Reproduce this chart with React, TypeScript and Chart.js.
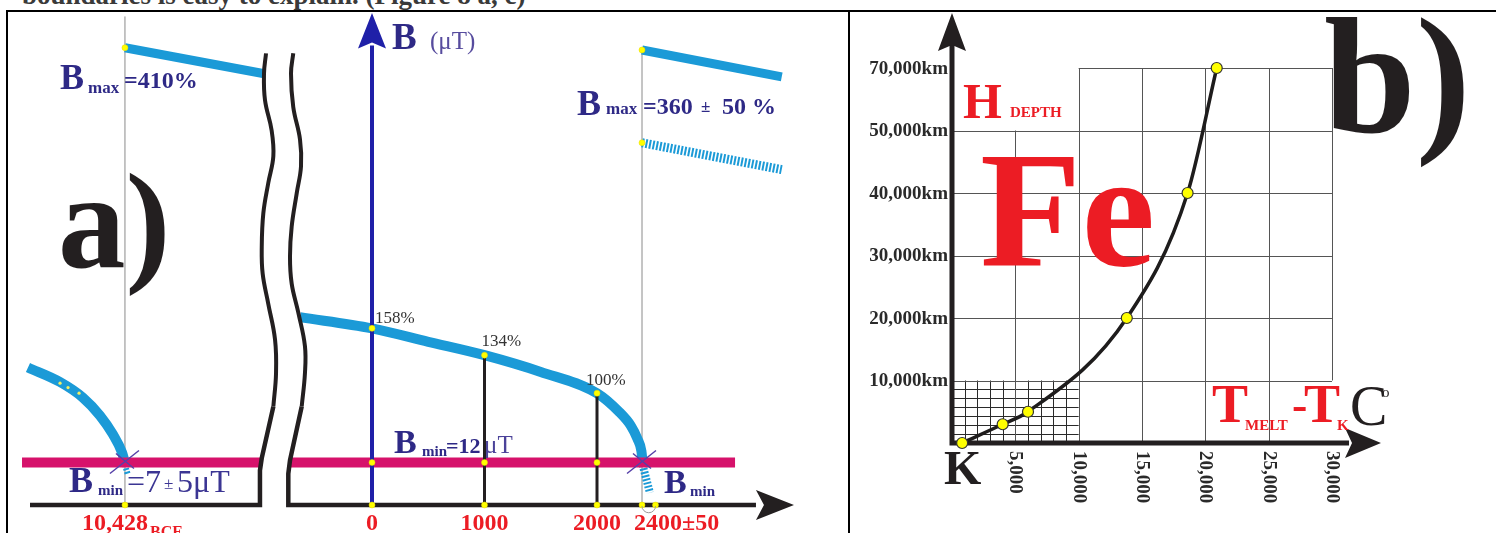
import React, { useEffect, useRef } from "react";
import { Chart, registerables } from "chart.js";
Chart.register(...registerables);

const SERIF = '"Liberation Serif", "Times New Roman", serif';
const INDIGO = "#2e2986";
const RED = "#ec1c24";
const CYAN = "#1b9ad7";
const MAGENTA = "#d6126b";
const BLUE = "#1f20a8";
const INK = "#231f20";
const YELLOW = "#ffff00";

// ================= Panel a) : B (% / µT) versus years =================
// x axis is broken: left part shows 10,428 BCE compressed next to the break
const A_TICK_YEARS = [-2196, 0, 1000, 2000, 2400];
const A_TICK_LABELS = ["10,428", "0", "1000", "2000", "2400±50"];
const A_CURVE_YEARS = [-640, 0, 500, 1000, 1500, 2000, 2200, 2300, 2360, 2395, 2405];
const A_CURVE_PCT = [168, 158, 146, 134, 119, 100, 83, 71, 59, 48, 38];
const A_MARK_YEARS = [0, 1000, 2000];
const A_MARK_PCT = [158, 134, 100];
const A_MARK_LABELS = ["158%", "134%", "100%"];
const A_LEFT_YEARS = [-3058, -2773, -2569, -2418, -2302, -2222, -2196];
const A_LEFT_PCT = [123, 110, 96, 80, 63, 47, 38];
const A_BMIN_PCT = 38;
const A_BMIN_L_YEARS = [-3111, -978];
const A_BMIN_R_YEARS = [-729, 3227];
const A_BMAX_L_YEARS = [-2196, -969];
const A_BMAX_L_PCT = [409, 386];
const A_BMAX_R_YEARS = [2400, 3642];
const A_BMAX_R_PCT = [407, 383];
const A_BMAX_R_LOW_PCT = [324, 300];
const A_TAIL_YEARS = [2405, 2470];
const A_TAIL_PCT = [36, 11];
const A_TAIL_L_YEARS = [-2196, -2170];
const A_TAIL_L_PCT = [36, 27];
const A_SPECK_YEARS = [-2773, -2702, -2604];
const A_SPECK_PCT = [109, 105, 100];
const A_PM_YEARS = [2400, 2520];
// broken-axis squiggles
const A_BREAK_L_X = [-877, -853, -862, -922, -972, -980, -966, -922, -877, -892, -951, -960, -942];
const A_BREAK_L_Y = [88, 118, 148, 180, 207, 231, 261, 288, 312, 335, 362, 386, 404];
const A_AXIS_L_X = [-3040, -996, -996, -980, -877];
const A_AXIS_L_Y = [0, 0, 31, 42, 88];
const A_BREAK_R_X = [-625, -596, -596, -655, -714, -729, -714, -669, -631, -640, -700, -720, -700];
const A_BREAK_R_Y = [88, 118, 142, 172, 198, 222, 249, 279, 303, 327, 356, 386, 404];
const A_AXIS_R_X = [3413, -744, -744, -729, -625];
const A_AXIS_R_Y = [0, 0, 28, 40, 88];
const A_GUIDE_TOP = [437, 407];
const A_B_AXIS_TOP = 411;
const A_B_AXIS_TIP = 440;
const A_X_ARROW_BASE = 3413;
const A_X_ARROW_TIP = 3751;

// ================= Panel b) : depth vs T_melt - T_K =================
const B_T = [800, 4000, 6000, 13800, 18600, 20900];
const B_DEPTH = [0, 3000, 5000, 20000, 40000, 70000];
const B_DEPTH_TICKS = [10000, 20000, 30000, 40000, 50000, 70000];
const B_DEPTH_TICK_LABELS = ["10,000km", "20,000km", "30,000km", "40,000km", "50,000km", "70,000km"];
const B_T_TICKS = [5000, 10000, 15000, 20000, 25000, 30000];
const B_T_TICK_LABELS = ["5,000", "10,000", "15,000", "20,000", "25,000", "30,000"];
const B_GRID_H_FROM = [0, 0, 0, 0, 0, 10000];
const B_GRID_V_BOTTOM = [0, 0, 0, 0, 0, 10000];
const B_GRID_V_TOP = [50000, 70000, 70000, 70000, 70000, 70000];
const B_FINE_T_STEP = 1000;
const B_FINE_T_MAX = 10000;
const B_FINE_ROWS = 7;
const B_X_ARROW_BASE = 31030;
const B_X_ARROW_TIP = 33870;

// the drawn depth axis is evenly spaced by tick (note 50,000 -> 70,000 step)
function depthToRow(d: number): number {
  const knots = [0, ...B_DEPTH_TICKS];
  for (let i = 1; i < knots.length; i++) {
    if (d <= knots[i]) return i - 1 + (d - knots[i - 1]) / (knots[i] - knots[i - 1]);
  }
  return knots.length - 1;
}

const pts = (xs: number[], ys: number[]) => xs.map((x, i) => ({ x, y: ys[i] }));
const flat = (xs: number[], y: number) => xs.map((x) => ({ x, y }));

function line(data: any[], color: string, width: number, extra: any = {}) {
  return {
    data,
    showLine: true,
    borderColor: color,
    backgroundColor: color,
    borderWidth: width,
    pointRadius: 0,
    pointHoverRadius: 0,
    fill: false,
    tension: 0,
    borderCapStyle: "butt",
    borderJoinStyle: "miter",
    ...extra,
  };
}

function ordered(ds: any[]) {
  const n = ds.length;
  return ds.map((d, i) => ({ ...d, order: n - i }));
}

function txt(ctx: CanvasRenderingContext2D, s: string, x: number, y: number, size: number, weight: string, color: string, align: CanvasTextAlign = "left") {
  ctx.font = `${weight} ${size}px ${SERIF}`;
  ctx.fillStyle = color;
  ctx.textAlign = align;
  ctx.textBaseline = "alphabetic";
  ctx.fillText(s, x, y);
}

function stealth(ctx: CanvasRenderingContext2D, tip: [number, number], dir: [number, number], len: number, half: number, notch: number, color: string) {
  const [tx, ty] = tip;
  const [dx, dy] = dir;
  const px = -dy, py = dx;
  const bx = tx - dx * len, by = ty - dy * len;
  ctx.beginPath();
  ctx.moveTo(tx, ty);
  ctx.lineTo(bx + px * half, by + py * half);
  ctx.lineTo(bx + dx * notch, by + dy * notch);
  ctx.lineTo(bx - px * half, by - py * half);
  ctx.closePath();
  ctx.fillStyle = color;
  ctx.fill();
}

const A_ORIGIN = { x: 8, y: 12 };
const B_ORIGIN = { x: 850, y: 12 };

const baseOptions = (xmin: number, xmax: number, ymin: number, ymax: number) => ({
  responsive: false,
  animation: false,
  events: [],
  layout: { padding: 0, autoPadding: false },
  plugins: { legend: { display: false }, tooltip: { enabled: false } },
  scales: {
    x: { type: "linear", display: false, min: xmin, max: xmax },
    y: { type: "linear", display: false, min: ymin, max: ymax },
  },
});

function configA(): any {
  const datasets = ordered([
    line(pts([A_TICK_YEARS[0], A_TICK_YEARS[0]], [0, A_GUIDE_TOP[0]]), "#8a8a8a", 1),
    line(pts([A_TICK_YEARS[4], A_TICK_YEARS[4]], [0, A_GUIDE_TOP[1]]), "#8a8a8a", 1),
    line(pts(A_BMAX_L_YEARS, A_BMAX_L_PCT), CYAN, 9),
    line(pts(A_BMAX_R_YEARS, A_BMAX_R_PCT), CYAN, 9),
    line(pts(A_BMAX_R_YEARS, A_BMAX_R_LOW_PCT), CYAN, 9, { borderDash: [2, 1.6] }),
    line(pts(A_CURVE_YEARS, A_CURVE_PCT), CYAN, 10, { cubicInterpolationMode: "monotone" }),
    line(pts(A_LEFT_YEARS, A_LEFT_PCT), CYAN, 10, { cubicInterpolationMode: "monotone" }),
    line(pts(A_TAIL_YEARS, A_TAIL_PCT), CYAN, 8, { borderDash: [2, 1.6] }),
    line(pts(A_TAIL_L_YEARS, A_TAIL_L_PCT), CYAN, 6, { borderDash: [2, 1.6] }),
    line(flat(A_BMIN_L_YEARS, A_BMIN_PCT), MAGENTA, 10),
    line(flat(A_BMIN_R_YEARS, A_BMIN_PCT), MAGENTA, 10),
    line(pts([A_MARK_YEARS[1], A_MARK_YEARS[1]], [0, A_MARK_PCT[1]]), INK, 3),
    line(pts([A_MARK_YEARS[2], A_MARK_YEARS[2]], [0, A_MARK_PCT[2]]), INK, 3),
    line(pts([0, 0], [0, A_B_AXIS_TOP]), BLUE, 4),
    line(pts(A_BREAK_L_X, A_BREAK_L_Y), INK, 4, { tension: 0.4 }),
    line(pts(A_AXIS_L_X, A_AXIS_L_Y), INK, 4.5),
    line(pts(A_BREAK_R_X, A_BREAK_R_Y), INK, 4, { tension: 0.4 }),
    line(pts(A_AXIS_R_X, A_AXIS_R_Y), INK, 4.5),
    {
      data: [
        { x: A_BMAX_L_YEARS[0], y: A_BMAX_L_PCT[0] },
        { x: A_BMAX_R_YEARS[0], y: A_BMAX_R_PCT[0] },
        { x: A_BMAX_R_YEARS[0], y: A_BMAX_R_LOW_PCT[0] },
        ...pts(A_MARK_YEARS, A_MARK_PCT),
        ...flat(A_MARK_YEARS, A_BMIN_PCT),
        ...flat(A_MARK_YEARS, 0),
        { x: A_TICK_YEARS[0], y: 0 },
        ...flat(A_PM_YEARS, 0),
      ],
      pointRadius: 3,
      pointHoverRadius: 3,
      pointBackgroundColor: YELLOW,
      pointBorderColor: "#e8d800",
      pointBorderWidth: 0.5,
      showLine: false,
    },
    {
      data: pts(A_SPECK_YEARS, A_SPECK_PCT),
      pointRadius: 1.6,
      pointBackgroundColor: "#f4f060",
      pointBorderWidth: 0,
      showLine: false,
    },
  ]);

  const decor = {
    id: "decorA",
    afterDatasetsDraw(chart: any) {
      const ctx: CanvasRenderingContext2D = chart.ctx;
      const X = (v: number) => chart.scales.x.getPixelForValue(v);
      const Y = (v: number) => chart.scales.y.getPixelForValue(v);
      const P = (x: number, y: number): [number, number] => [x - A_ORIGIN.x, y - A_ORIGIN.y];
      ctx.save();
      // arrows
      stealth(ctx, [X(0), Y(A_B_AXIS_TIP)], [0, -1], Y(A_B_AXIS_TOP) - Y(A_B_AXIS_TIP) + 3, 14, 6, BLUE);
      stealth(ctx, [X(A_X_ARROW_TIP), Y(0)], [1, 0], X(A_X_ARROW_TIP) - X(A_X_ARROW_BASE), 15, 8, INK);
      // crossing marks
      ctx.strokeStyle = "#5640a8";
      ctx.lineWidth = 1.5;
      for (const yr of [A_TICK_YEARS[0], A_TICK_YEARS[4]]) {
        const cx = X(yr), cy = Y(A_BMIN_PCT);
        ctx.beginPath();
        ctx.moveTo(cx - 15, cy + 11);
        ctx.lineTo(cx + 14, cy - 12);
        ctx.moveTo(cx - 9, cy - 9);
        ctx.lineTo(cx + 9, cy + 6);
        ctx.stroke();
      }
      // ± range arc
      ctx.strokeStyle = "#9a9a9a";
      ctx.lineWidth = 1;
      const a0 = X(A_PM_YEARS[0]), a1 = X(A_PM_YEARS[1]);
      ctx.beginPath();
      ctx.arc((a0 + a1) / 2, Y(0) + 1, (a1 - a0) / 2, 0, Math.PI);
      ctx.stroke();
      // percent labels
      const offs = [[3, -5], [-3, -9], [-11, -8]];
      A_MARK_LABELS.forEach((s, i) => {
        txt(ctx, s, X(A_MARK_YEARS[i]) + offs[i][0], Y(A_MARK_PCT[i]) + offs[i][1], 17, "normal", "#333");
      });
      // tick labels (red)
      const ty = 530 - A_ORIGIN.y;
      A_TICK_LABELS.forEach((s, i) => {
        const tx = X(A_TICK_YEARS[i]);
        if (i === 0) {
          txt(ctx, s, tx - 43, ty, 24, "bold", RED);
          txt(ctx, "BCE", tx + 25, ty + 7, 16, "bold", RED);
        } else if (i === A_TICK_LABELS.length - 1) {
          txt(ctx, s, tx - 8, ty, 24, "bold", RED);
        } else {
          txt(ctx, s, tx, ty, 24, "bold", RED, "center");
        }
      });
      // annotation runs (page coords)
      const runs: [string, number, number, number, string, string][] = [
        ["B", 60, 89, 36, "bold", INDIGO],
        ["max", 88, 93, 17, "bold", INDIGO],
        ["=410%", 124, 88, 24, "bold", INDIGO],
        ["B", 577, 115, 36, "bold", INDIGO],
        ["max", 606, 114, 17, "bold", INDIGO],
        ["=360", 643, 114, 24, "bold", INDIGO],
        ["±", 701, 112, 17, "bold", INDIGO],
        ["50 %", 722, 114, 24, "bold", INDIGO],
        ["B", 394, 453, 34, "bold", INDIGO],
        ["min", 422, 456, 15, "bold", INDIGO],
        ["=12", 446, 453, 22, "bold", INDIGO],
        ["μT", 484, 453, 25, "normal", "#4b4299"],
        ["B", 69, 492, 36, "bold", INDIGO],
        ["min", 98, 495, 15, "bold", INDIGO],
        ["=7", 127, 492, 32, "normal", "#3b3593"],
        ["±", 164, 489, 17, "normal", "#3b3593"],
        ["5μT", 177, 492, 32, "normal", "#3b3593"],
        ["B", 664, 493, 34, "bold", INDIGO],
        ["min", 690, 496, 15, "bold", INDIGO],
        ["B", 392, 49, 37, "bold", INDIGO],
        ["(μT)", 430, 49, 25, "normal", "#574c9e"],
        ["a)", 58, 267, 135, "bold", INK],
      ];
      for (const [s, x, y, size, w, c] of runs) {
        const [lx, ly] = P(x, y);
        txt(ctx, s, lx, ly, size, w, c);
      }
      ctx.restore();
    },
  };

  return {
    type: "scatter",
    data: { datasets },
    options: baseOptions(-3235.6, 4231.1, -25.04, 440.97),
    plugins: [decor],
  };
}

function configB(): any {
  const curve = B_T.map((t, i) => ({ x: t, y: depthToRow(B_DEPTH[i]) }));
  const datasets = ordered([
    line(curve, "#1e1c1c", 3.5, {
      cubicInterpolationMode: "monotone",
      pointRadius: 5.5,
      pointHoverRadius: 5.5,
      pointBackgroundColor: YELLOW,
      pointBorderColor: "#333",
      pointBorderWidth: 1.2,
    }),
  ]);

  const decor = {
    id: "decorB",
    beforeDatasetsDraw(chart: any) {
      const ctx: CanvasRenderingContext2D = chart.ctx;
      const X = (v: number) => chart.scales.x.getPixelForValue(v);
      const Y = (d: number) => chart.scales.y.getPixelForValue(depthToRow(d));
      const YR = (r: number) => chart.scales.y.getPixelForValue(r);
      ctx.save();
      // fine grid
      ctx.strokeStyle = "#2a2a2a";
      ctx.lineWidth = 1;
      ctx.beginPath();
      for (let t = B_FINE_T_STEP; t < B_FINE_T_MAX; t += B_FINE_T_STEP) {
        const x = Math.round(X(t)) + 0.5;
        ctx.moveTo(x, Y(0));
        ctx.lineTo(x, Y(B_DEPTH_TICKS[0]));
      }
      for (let k = 1; k < B_FINE_ROWS; k++) {
        const y = Math.round(YR(k / B_FINE_ROWS)) + 0.5;
        ctx.moveTo(X(0), y);
        ctx.lineTo(X(B_FINE_T_MAX), y);
      }
      ctx.stroke();
      // main grid
      ctx.strokeStyle = "#555";
      ctx.beginPath();
      B_DEPTH_TICKS.forEach((d, i) => {
        const y = Math.round(Y(d)) + 0.5;
        ctx.moveTo(X(B_GRID_H_FROM[i]), y);
        ctx.lineTo(X(B_T_TICKS[B_T_TICKS.length - 1]), y);
      });
      B_T_TICKS.forEach((t, i) => {
        const x = Math.round(X(t)) + 0.5;
        ctx.moveTo(x, Y(B_GRID_V_BOTTOM[i]));
        ctx.lineTo(x, Y(B_GRID_V_TOP[i]));
      });
      ctx.stroke();
      // axes
      const ox = X(0), oy = Y(0);
      const topTip = chart.chartArea.top + 1;
      ctx.strokeStyle = INK;
      ctx.lineWidth = 5;
      ctx.lineJoin = "miter";
      ctx.beginPath();
      ctx.moveTo(ox, topTip + 30);
      ctx.lineTo(ox, oy);
      ctx.lineTo(X(B_X_ARROW_BASE) + 4, oy);
      ctx.stroke();
      stealth(ctx, [ox, topTip], [0, -1], 38, 14, 6, INK);
      stealth(ctx, [X(B_X_ARROW_TIP), oy], [1, 0], X(B_X_ARROW_TIP) - X(B_X_ARROW_BASE), 15, 7, INK);
      ctx.restore();
    },
    afterDatasetsDraw(chart: any) {
      const ctx: CanvasRenderingContext2D = chart.ctx;
      const X = (v: number) => chart.scales.x.getPixelForValue(v);
      const Y = (d: number) => chart.scales.y.getPixelForValue(depthToRow(d));
      const P = (x: number, y: number): [number, number] => [x - B_ORIGIN.x, y - B_ORIGIN.y];
      ctx.save();
      // y tick labels
      ctx.font = `bold 19px ${SERIF}`;
      ctx.fillStyle = "#2a2a2a";
      ctx.textAlign = "right";
      ctx.textBaseline = "middle";
      const yLabRight = P(948, 0)[0];
      B_DEPTH_TICKS.forEach((d, i) => ctx.fillText(B_DEPTH_TICK_LABELS[i], yLabRight, Y(d) + 1));
      // x tick labels rotated
      const xLabTop = P(0, 451)[1];
      B_T_TICKS.forEach((t, i) => {
        ctx.save();
        ctx.translate(X(t), xLabTop);
        ctx.rotate(Math.PI / 2);
        ctx.font = `bold 19px ${SERIF}`;
        ctx.fillStyle = "#2a2a2a";
        ctx.textAlign = "left";
        ctx.textBaseline = "middle";
        ctx.fillText(B_T_TICK_LABELS[i], 0, 0);
        ctx.restore();
      });
      const runs: [string, number, number, number, string, string][] = [
        ["K", 944, 484, 48, "bold", INK],
        ["H", 963, 118, 50, "bold", RED],
        ["DEPTH", 1010, 117, 15, "bold", RED],
        ["Fe", 980, 265, 166, "bold", RED],
        ["b)", 1324, 132, 165, "bold", INK],
        ["T", 1212, 422, 54, "bold", RED],
        ["MELT", 1245, 430, 15, "bold", RED],
        ["-", 1292, 420, 46, "bold", RED],
        ["T", 1304, 422, 54, "bold", RED],
        ["K", 1337, 430, 15, "bold", RED],
        ["C", 1350, 425, 56, "normal", INK],
        ["o", 1382, 397, 15, "normal", INK],
      ];
      for (const [s, x, y, size, w, c] of runs) {
        const [lx, ly] = P(x, y);
        txt(ctx, s, lx, ly, size, w, c);
      }
      ctx.restore();
    },
  };

  return {
    type: "scatter",
    data: { datasets },
    options: baseOptions(-8053, 42950, -1.44, 6.896),
    plugins: [decor],
  };
}

export default function App() {
  const aRef = useRef<HTMLCanvasElement>(null);
  const bRef = useRef<HTMLCanvasElement>(null);
  useEffect(() => {
    const ca = new Chart(aRef.current!, configA());
    const cb = new Chart(bRef.current!, configB());
    return () => {
      ca.destroy();
      cb.destroy();
    };
  }, []);
  const bar = (l: number, t: number, w: number, h: number) => (
    <div style={{ position: "absolute", left: l, top: t, width: w, height: h, background: "#000" }} />
  );
  return (
    <div style={{ position: "fixed", left: 0, top: 0, width: 1496, height: 533, background: "#fff", overflow: "hidden" }}>
      <div
        style={{
          position: "absolute",
          left: 22,
          top: -18,
          font: `bold 27px ${SERIF}`,
          lineHeight: "27px",
          color: "#3a3a3a",
          whiteSpace: "nowrap",
        }}
      >
        boundaries is easy to explain. (Figure 8 a, c)
      </div>
      {bar(6, 10, 1490, 2)}
      {bar(6, 10, 2, 523)}
      {bar(848, 10, 2, 523)}
      <canvas ref={aRef} width={840} height={521} style={{ position: "absolute", left: 8, top: 12, width: 840, height: 521 }} />
      <canvas ref={bRef} width={646} height={521} style={{ position: "absolute", left: 850, top: 12, width: 646, height: 521 }} />
    </div>
  );
}
